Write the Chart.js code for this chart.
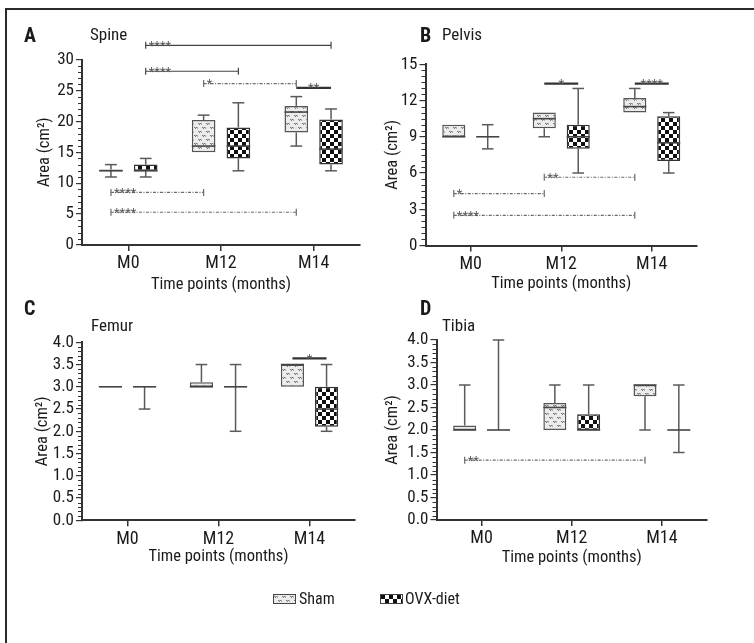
<!DOCTYPE html>
<html><head><meta charset="utf-8">
<script src="https://cdn.jsdelivr.net/npm/chart.js@4.4.1/dist/chart.umd.min.js"></script>
<style>
html,body{margin:0;padding:0;background:#fff;}
#page{position:relative;width:754px;height:643px;overflow:hidden;background:#fff;}
.abs{position:absolute;white-space:nowrap;line-height:1;color:#1a1a1a;font-family:'Roboto Condensed','DejaVu Sans Condensed',sans-serif;}
.letter{font-weight:bold;font-size:20px;}
.ptitle{font-size:17px;}
.leg{font-size:16px;}
.sw{position:absolute;width:21px;height:8px;border:1px solid #444;}
canvas{position:absolute;}
</style></head><body><div id="page">
<div class="abs" style="left:6px;top:8px;width:748px;height:2px;background:#2a2a2a"></div>
<div class="abs" style="left:5px;top:8px;width:2px;height:635px;background:#2a2a2a"></div>
<canvas id="cA" width="371" height="290" style="left:6px;top:10px"></canvas>
<canvas id="cB" width="377" height="290" style="left:377px;top:10px"></canvas>
<canvas id="cC" width="371" height="300" style="left:6px;top:300px"></canvas>
<canvas id="cD" width="377" height="300" style="left:377px;top:300px"></canvas>
<div class="abs letter" style="left:24px;top:25px">A</div>
<div class="abs ptitle" style="left:90px;top:25.5px">Spine</div>
<div class="abs letter" style="left:420px;top:25px">B</div>
<div class="abs ptitle" style="left:442px;top:25.5px">Pelvis</div>
<div class="abs letter" style="left:24px;top:298px">C</div>
<div class="abs ptitle" style="left:91px;top:317px">Femur</div>
<div class="abs letter" style="left:420px;top:298px">D</div>
<div class="abs ptitle" style="left:442px;top:317px">Tibia</div>
<div id="swS" class="sw" style="left:273px;top:594px"></div>
<div class="abs leg" style="left:299px;top:590.5px">Sham</div>
<div id="swO" class="sw" style="left:380px;top:594px"></div>
<div class="abs leg" style="left:405px;top:590.5px">OVX-diet</div>
</div>
<script>
// ---------------- data ----------------
const timeLabels = ['M0', 'M12', 'M14'];
const groupNames = ['Sham', 'OVX-diet'];
// each entry: [min, Q1, median, Q3, max] per time point
const spineSham  = [[11, 12, 12, 12.2, 13], [15, 15, 16, 20.2, 21], [16, 18.2, 21.5, 22.5, 24]];
const spineOvx   = [[11, 12, 12, 13, 14], [12, 14, 16, 19, 23], [12, 13, 15.5, 20.3, 22]];
const pelvisSham = [[9, 9, 9, 10, 10], [9, 9.7, 10.5, 11, 11], [11, 11, 11.5, 12.2, 13]];
const pelvisOvx  = [[8, 9, 9, 9, 10], [6, 8, 9, 10, 13], [6, 7, 8.5, 10.7, 11]];
const femurSham  = [[3, 3, 3, 3, 3], [3, 3, 3, 3.1, 3.5], [3, 3, 3.5, 3.5, 3.5]];
const femurOvx   = [[2.5, 3, 3, 3, 3], [2, 3, 3, 3, 3.5], [2, 2.1, 2.5, 3, 3.5]];
const tibiaSham  = [[2, 2, 2, 2.1, 3], [2, 2, 2.5, 2.6, 3], [2, 2.75, 3, 3, 3]];
const tibiaOvx   = [[2, 2, 2, 2, 4], [2, 2, 2, 2.35, 3], [1.5, 2, 2, 2, 3]];
// significance: [fromTime, fromGroup, toTime, toGroup, level, stars]  (group 0 = Sham, 1 = OVX-diet)
const spineSig  = [[0, 1, 2, 1, 32.3, '****'], [0, 1, 1, 1, 28.1, '****'], [1, 0, 2, 0, 26.1, '*'], [2, 0, 2, 1, 25.4, '**'], [0, 0, 1, 0, 8.5, '****'], [0, 0, 2, 0, 5.3, '****']];
const pelvisSig = [[1, 0, 1, 1, 13.4, '*'], [2, 0, 2, 1, 13.4, '****'], [1, 0, 2, 0, 5.65, '**'], [0, 0, 1, 0, 4.3, '*'], [0, 0, 2, 0, 2.5, '****']];
const femurSig  = [[2, 0, 2, 1, 3.64, '*']];
const tibiaSig  = [[0, 0, 2, 0, 1.33, '**']];
// y tick labels and minor tick step
const spineTicks  = [0, 5, 10, 15, 20, 25, 30];
const pelvisTicks = [0, 3, 6, 9, 12, 15];
const femurTicks  = [0, 0.5, 1, 1.5, 2, 2.5, 3, 3.5, 4];
const tibiaTicks  = [0, 0.5, 1, 1.5, 2, 2.5, 3, 3.5, 4];
const minorSteps  = {spine: 1, pelvis: 0.5, femur: 0.1, tibia: 0.1};
const xTitle = 'Time points (months)';
const yTitle = 'Area (cm²)';

// ---------------- drawing ----------------
const FF = "'Roboto Condensed','DejaVu Sans Condensed',sans-serif";
function tile(kind) {
  const c = document.createElement('canvas'); c.width = 8; c.height = 8;
  const g = c.getContext('2d');
  if (kind === 'ovx') {
    g.fillStyle = '#fff'; g.fillRect(0, 0, 8, 8);
    g.fillStyle = '#111'; g.fillRect(0, 0, 4, 4); g.fillRect(4, 4, 4, 4);
  } else {
    g.fillStyle = '#ececec'; g.fillRect(0, 0, 8, 8);
    g.fillStyle = '#7a7a7a';
    [[0,1],[2,1],[1,2],[4,5],[6,5],[5,6]].forEach(([x, y]) => g.fillRect(x, y, 1, 1));
    g.fillStyle = '#b0b0b0';
    [[1,1],[5,5],[3,2],[7,6],[3,1],[7,5]].forEach(([x, y]) => g.fillRect(x, y, 1, 1));
  }
  return c;
}
const shamTile = tile('sham'), ovxTile = tile('ovx');
document.getElementById('swS').style.background = 'url(' + shamTile.toDataURL() + ')';
document.getElementById('swO').style.background = 'url(' + ovxTile.toDataURL() + ')';

function buildChart(id, sham, ovx, sig, ticks, minor, decimals, geo) {
  const canvas = document.getElementById(id);
  const ctx0 = canvas.getContext('2d');
  const shamPat = ctx0.createPattern(shamTile, 'repeat');
  const ovxPat = ctx0.createPattern(ovxTile, 'repeat');
  const ymin = ticks[0], ymax = ticks[ticks.length - 1];
  const mk = (label, stats, pat, bc) => ({
    label, data: stats.map(s => [s[1], s[3]]), stats,
    backgroundColor: pat, borderColor: bc, borderWidth: 1.5, borderSkipped: false,
    categoryPercentage: 0.75, barPercentage: 0.68
  });
  const plugin = {
    id: 'box_' + id,
    afterDatasetsDraw(chart) {
      const ctx = chart.ctx, ys = chart.scales.y, ca = chart.chartArea;
      const py = v => ys.getPixelForValue(v);
      const seg = (x1, y1, x2, y2) => { ctx.beginPath(); ctx.moveTo(x1, y1); ctx.lineTo(x2, y2); ctx.stroke(); };
      ctx.save();
      // minor ticks
      ctx.strokeStyle = '#333'; ctx.lineWidth = 1;
      const majors = new Set(ticks.map(t => Math.round(t * 1000)));
      for (let k = 0; ymin + k * minor <= ymax + 1e-9; k++) {
        const v = ymin + k * minor;
        if (majors.has(Math.round(v * 1000))) continue;
        const yy = Math.round(py(v)) + 0.5;
        seg(ca.left - 4, yy, ca.left, yy);
      }
      // whiskers and medians
      chart.data.datasets.forEach((d, di) => {
        chart.getDatasetMeta(di).data.forEach((bar, i) => {
          const s = d.stats[i], x = bar.x, hw = bar.width / 2, cw = bar.width / 4;
          ctx.strokeStyle = '#5a5a5a'; ctx.lineWidth = 1.5;
          if (s[4] > s[3]) { seg(x, py(s[3]), x, py(s[4])); seg(x - cw, py(s[4]), x + cw, py(s[4])); }
          if (s[0] < s[1]) { seg(x, py(s[1]), x, py(s[0])); seg(x - cw, py(s[0]), x + cw, py(s[0])); }
          ctx.strokeStyle = '#444'; ctx.lineWidth = 1.6;
          seg(x - hw, py(s[2]), x + hw, py(s[2]));
        });
      });
      // significance brackets
      ctx.font = '13px ' + FF; ctx.textBaseline = 'alphabetic';
      sig.forEach(([t1, g1, t2, g2, v, lab]) => {
        const x1 = chart.getDatasetMeta(g1).data[t1].x, x2 = chart.getDatasetMeta(g2).data[t2].x, yy = py(v);
        if (g1 !== g2) {
          ctx.strokeStyle = '#333'; ctx.lineWidth = 2.2; ctx.setLineDash([]);
          seg(x1, yy, x2, yy);
          ctx.fillStyle = '#555'; ctx.textAlign = 'center'; ctx.fillText(lab, (x1 + x2) / 2, yy + 4.5);
        } else {
          ctx.strokeStyle = g1 === 0 ? '#6a6a6a' : '#444'; ctx.lineWidth = 1.2;
          ctx.setLineDash(g1 === 0 ? [3, 1.5, 1, 1.5] : []);
          seg(x1, yy, x2, yy); ctx.setLineDash([]);
          seg(x1, yy - 3.5, x1, yy + 3.5); seg(x2, yy - 3.5, x2, yy + 3.5);
          ctx.fillStyle = '#555'; ctx.textAlign = 'left'; ctx.fillText(lab, x1 + 3, yy + 4.5);
        }
      });
      ctx.restore();
    }
  };
  return new Chart(canvas, {
    type: 'bar',
    data: { labels: timeLabels, datasets: [mk(groupNames[0], sham, shamPat, '#555'), mk(groupNames[1], ovx, ovxPat, '#333')] },
    options: {
      responsive: false, animation: false, devicePixelRatio: 1,
      layout: { padding: { left: geo.pl, top: geo.pt, right: geo.pr, bottom: geo.pb } },
      plugins: { legend: { display: false }, tooltip: { enabled: false } },
      scales: {
        x: {
          offset: true,
          grid: { offset: false, drawOnChartArea: false, drawTicks: true, tickLength: 6, color: '#333', lineWidth: 1.5 },
          border: { display: true, color: '#333', width: 2 },
          ticks: { font: { family: FF, size: 18 }, color: '#1a1a1a', padding: 2 },
          title: { display: true, text: xTitle, font: { family: FF, size: 16.5 }, color: '#1a1a1a', padding: 0 },
          afterFit: s => { s.height = geo.xh; s.paddingLeft = 0; s.paddingRight = 0; }
        },
        y: {
          min: ymin, max: ymax,
          afterBuildTicks: s => { s.ticks = ticks.map(v => ({ value: v })); },
          grid: { drawOnChartArea: false, drawTicks: true, tickLength: 6, color: '#333', lineWidth: 1.2 },
          border: { display: true, color: '#333', width: 2 },
          ticks: { autoSkip: false, font: { family: FF, size: 17, lineHeight: 1 }, color: '#1a1a1a', padding: 2, callback: v => Number(v).toFixed(decimals) },
          title: { display: true, text: yTitle, font: { family: FF, size: 16.5 }, color: '#1a1a1a', padding: 0 },
          afterFit: s => { s.width = geo.yw; s.paddingTop = 0; s.paddingBottom = 0; }
        }
      }
    },
    plugins: [plugin]
  });
}

buildChart('cA', spineSham, spineOvx, spineSig, spineTicks, minorSteps.spine, 0,
  { pl: 29.1, pt: 49.5, pr: 17, pb: 5.1, yw: 46.9, xh: 49.9 });
buildChart('cB', pelvisSham, pelvisOvx, pelvisSig, pelvisTicks, minorSteps.pelvis, 0,
  { pl: 5.9, pt: 54.3, pr: 57, pb: 6.1, yw: 42.6, xh: 48.4 });
buildChart('cC', femurSham, femurOvx, femurSig, femurTicks, minorSteps.femur, 1,
  { pl: 27.4, pt: 42.3, pr: 22, pb: 33.4, yw: 48.6, xh: 46.3 });
buildChart('cD', tibiaSham, tibiaOvx, tibiaSig, tibiaTicks, minorSteps.tibia, 1,
  { pl: 5.9, pt: 40, pr: 47, pb: 31.8, yw: 53.6, xh: 48.2 });
</script>
</body></html>
